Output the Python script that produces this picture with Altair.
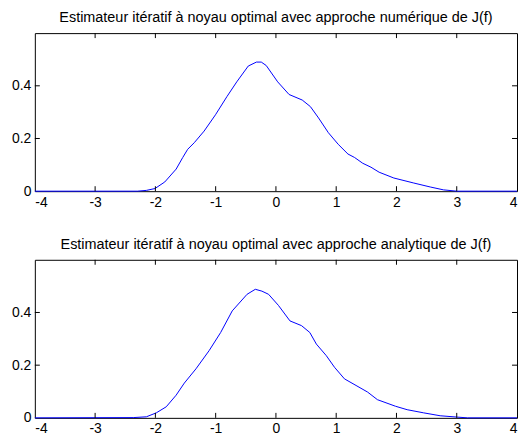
import altair as alt
import pandas as pd

# Top panel: numerical approach
top_x = [-4, -2.3, -2.15, -2.007, -1.844, -1.655, -1.546, -1.464, -1.355, -1.192, -1.003,
         -0.813, -0.65, -0.459, -0.324, -0.243, -0.161, 0.029, 0.218, 0.436, 0.572, 0.707,
         0.87, 1.033, 1.195, 1.304, 1.44, 1.577, 1.712, 1.956, 2.287, 2.56, 2.78, 3.0, 4]
top_y = [0, 0, 0.003, 0.010, 0.035, 0.084, 0.128, 0.159, 0.184, 0.228, 0.290,
         0.359, 0.415, 0.475, 0.490, 0.490, 0.477, 0.415, 0.367, 0.346, 0.321, 0.278,
         0.222, 0.178, 0.141, 0.128, 0.106, 0.091, 0.072, 0.050, 0.031, 0.016, 0.005, 0.0, 0]

# Bottom panel: analytical approach
bot_x = [-4, -2.368, -2.15, -1.985, -1.82, -1.656, -1.52, -1.327, -1.109, -0.917, -0.725,
         -0.479, -0.342, -0.233, -0.122, 0.041, 0.233, 0.425, 0.562, 0.671, 0.836, 0.972,
         1.137, 1.329, 1.52, 1.684, 1.985, 2.177, 2.451, 2.725, 3.0, 3.18, 4]
bot_y = [0, 0.001, 0.004, 0.019, 0.042, 0.086, 0.132, 0.186, 0.255, 0.324, 0.406,
         0.469, 0.488, 0.481, 0.469, 0.427, 0.368, 0.350, 0.324, 0.280, 0.236, 0.192,
         0.148, 0.123, 0.098, 0.069, 0.044, 0.031, 0.019, 0.008, 0.003, 0, 0]

x_ticks = [-4, -3, -2, -1, 0, 1, 2, 3, 4]
y_ticks = [0, 0.2, 0.4]

titles = [
    "Estimateur itératif à noyau optimal avec approche numérique de J(f)",
    "Estimateur itératif à noyau optimal avec approche analytique de J(f)",
]

W, H = 485, 159
FONT = "Liberation Sans"

xscale = alt.Scale(domain=[-4, 4], nice=False, zero=False)
yscale = alt.Scale(domain=[0, 0.6], nice=False)

xaxis = alt.Axis(values=x_ticks, ticks=False, domain=False, grid=False, title=None,
                 labelFontSize=14, labelFont=FONT, labelColor="black", labelPadding=4,
                 labelFlush=True,
                 labelExpr="datum.value < 0 ? '-' + abs(datum.value) : '' + datum.value")
yaxis = alt.Axis(values=y_ticks, ticks=False, domain=False, grid=False, title=None,
                 labelFontSize=14, labelFont=FONT, labelColor="black", labelPadding=4,
                 labelExpr="datum.value == 0 ? '0' : format(datum.value, '.1f')")

xt = pd.DataFrame({"t": x_ticks[1:-1]})
yt = pd.DataFrame({"t": y_ticks[1:]})


def panel(xs, ys, title):
    df = pd.DataFrame({"x": xs, "y": ys})
    line = alt.Chart(df).mark_line(color="#0000ff", strokeWidth=1).encode(
        x=alt.X("x:Q", scale=xscale, axis=xaxis),
        y=alt.Y("y:Q", scale=yscale, axis=yaxis),
    )
    tb = alt.Chart(xt).mark_rule(color="black", strokeWidth=1).encode(
        x=alt.X("t:Q", scale=xscale), y=alt.value(H), y2=alt.value(H - 5))
    tt = alt.Chart(xt).mark_rule(color="black", strokeWidth=1).encode(
        x=alt.X("t:Q", scale=xscale), y=alt.value(0), y2=alt.value(5))
    tl = alt.Chart(yt).mark_rule(color="black", strokeWidth=1).encode(
        y=alt.Y("t:Q", scale=yscale), x=alt.value(0), x2=alt.value(5))
    tr = alt.Chart(yt).mark_rule(color="black", strokeWidth=1).encode(
        y=alt.Y("t:Q", scale=yscale), x=alt.value(W - 5), x2=alt.value(W))
    return alt.layer(line, tb, tt, tl, tr).properties(
        width=W, height=H,
        title=alt.TitleParams(title, fontSize=14.5, font=FONT, fontWeight="normal",
                              color="black", anchor="middle", offset=7),
    )


chart = alt.vconcat(
    panel(top_x, top_y, titles[0]),
    panel(bot_x, bot_y, titles[1]),
    spacing=26,
).properties(
    padding={"left": 3, "top": 0, "right": 0, "bottom": 0},
    background="white",
).configure_view(
    stroke="black", strokeWidth=1
)

chart.save("out.html", embed_options={"renderer": "svg", "actions": False})
